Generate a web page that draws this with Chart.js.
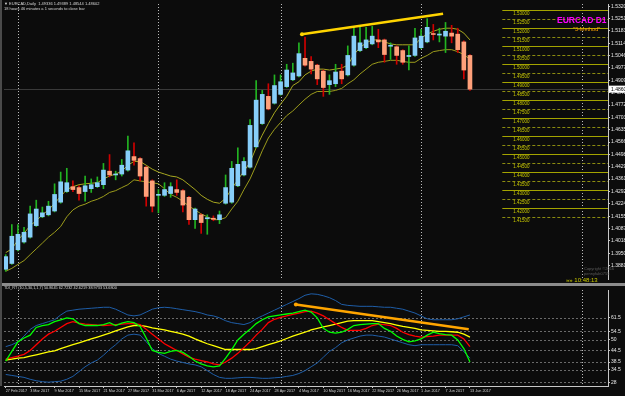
<!DOCTYPE html>
<html>
<head>
<meta charset="utf-8">
<title>EURCAD D1</title>
<script src="https://cdn.jsdelivr.net/npm/chart.js@4.4.1/dist/chart.umd.min.js"></script>
<style>
  html, body { margin: 0; padding: 0; background: #0c0c0c; }
  #wrap { position: relative; width: 625px; height: 396px; overflow: hidden; font-family: "Liberation Sans", Arial, sans-serif; }
  canvas { position: absolute; left: 0; }
  #main { top: 0; }
  #tdi { top: 286px; }
  #split { position: absolute; left: 0; top: 283px; width: 625px; height: 3px; background: #8c8c8c; }
  #edge { position: absolute; left: 0; top: 0; width: 2px; height: 386px; background: #4a4a4a; }
  .txt { position: absolute; white-space: nowrap; line-height: 1; }
</style>
</head>
<body>
<div id="wrap">
  <canvas id="main" width="625" height="283"></canvas>
  <div id="split"></div>
  <canvas id="tdi" width="625" height="110"></canvas>
  <div id="edge"></div>
  <div class="txt" style="left:4px;top:2px;font-size:4px;color:#d8d8d8">▼ EURCAD,Daily&nbsp; 1.49336 1.49389 1.48544 1.48602</div>
  <div class="txt" style="left:4px;top:7px;font-size:4px;color:#d8d8d8">18 hours 46 minutes a 1 seconds to close bar</div>
  <div class="txt" style="left:4px;top:287px;font-size:3.8px;color:#d8d8d8">TDI_RT (10,5,30,1,1,7) 50.8645 62.7232 42.6219 38.9733 53.6800</div>
  <div class="txt" style="left:557px;top:16px;font-size:8.5px;font-weight:bold;color:#ff00ff">EURCAD D1</div>
  <div class="txt" style="left:573px;top:27px;font-size:5.5px;color:#ffa500">"3-Method"</div>
  <div class="txt" style="left:584px;top:267px;font-size:4px;color:#5a5a5a">Copyright ©2016</div>
  <div class="txt" style="left:584px;top:272px;font-size:4px;color:#5a5a5a">pennyfab0755</div>
  <div class="txt" style="left:566px;top:277px;font-size:6px;color:#c8c800">»» 10:48:13</div>
</div>
<script>
// daily candles, 27 Feb 2017 .. 13 Jun 2017
const opens  = [1.3861,1.3893,1.3969,1.4012,1.4039,1.4103,1.4152,1.4163,1.4184,1.4233,1.4292,1.4319,1.4314,1.4292,1.4308,1.4319,1.4330,1.4405,1.4384,1.4389,1.4411,1.4486,1.4475,1.4427,1.4351,1.4271,1.4271,1.4281,1.4303,1.4297,1.4260,1.4136,1.4163,1.4141,1.4144,1.4136,1.4227,1.4233,1.4324,1.4384,1.4427,1.4540,1.4669,1.4820,1.4782,1.4831,1.4874,1.4912,1.4933,1.5031,1.5014,1.4993,1.4960,1.4885,1.4890,1.4960,1.4939,1.4993,1.5074,1.5090,1.5111,1.5133,1.5133,1.5098,1.5095,1.5074,1.5041,1.5047,1.5090,1.5122,1.5168,1.5160,1.5154,1.5171,1.5165,1.5122,1.5047];
const highs  = [1.3942,1.4109,1.4109,1.4093,1.4211,1.4244,1.4206,1.4238,1.4335,1.4400,1.4421,1.4351,1.4324,1.4378,1.4362,1.4373,1.4448,1.4497,1.4405,1.4470,1.4599,1.4562,1.4481,1.4432,1.4357,1.4303,1.4341,1.4341,1.4357,1.4303,1.4265,1.4200,1.4168,1.4163,1.4157,1.4184,1.4384,1.4459,1.4535,1.4481,1.4691,1.4907,1.4853,1.4890,1.4939,1.4939,1.4998,1.5004,1.5117,1.5149,1.5041,1.4998,1.4966,1.4939,1.4998,1.4998,1.5100,1.5203,1.5203,1.5203,1.5208,1.5192,1.5138,1.5117,1.5100,1.5079,1.5100,1.5198,1.5192,1.5251,1.5219,1.5198,1.5230,1.5214,1.5198,1.5128,1.5052];
const lows   = [1.3850,1.3888,1.3963,1.4006,1.4033,1.4098,1.4147,1.4157,1.4179,1.4227,1.4287,1.4292,1.4244,1.4238,1.4287,1.4314,1.4308,1.4373,1.4357,1.4378,1.4405,1.4438,1.4351,1.4211,1.4179,1.4174,1.4265,1.4260,1.4271,1.4179,1.4109,1.4087,1.4060,1.4055,1.4130,1.4114,1.4222,1.4227,1.4319,1.4378,1.4421,1.4535,1.4664,1.4745,1.4777,1.4826,1.4869,1.4907,1.4928,1.4987,1.4944,1.4885,1.4820,1.4831,1.4874,1.4890,1.4933,1.4987,1.5068,1.5084,1.5106,1.5090,1.5009,1.5025,1.4998,1.4998,1.4966,1.5041,1.5084,1.5117,1.5133,1.5122,1.5063,1.5117,1.5063,1.4917,1.4853];
const closes = [1.3931,1.4044,1.4055,1.4066,1.4168,1.4195,1.4174,1.4211,1.4276,1.4346,1.4341,1.4303,1.4281,1.4324,1.4330,1.4341,1.4411,1.4384,1.4389,1.4438,1.4518,1.4465,1.4378,1.4265,1.4211,1.4276,1.4303,1.4319,1.4287,1.4217,1.4136,1.4195,1.4120,1.4147,1.4138,1.4163,1.4314,1.4421,1.4443,1.4459,1.4659,1.4799,1.4831,1.4750,1.4880,1.4901,1.4966,1.4950,1.5057,1.4993,1.4971,1.4917,1.4869,1.4907,1.4955,1.4917,1.5047,1.5154,1.5117,1.5133,1.5154,1.5122,1.5052,1.5103,1.5047,1.5009,1.5047,1.5144,1.5154,1.5203,1.5163,1.5165,1.5181,1.5154,1.5079,1.4966,1.4860];

// two moving averages on the price chart
const maFast = [1.3953,1.3974,1.4023,1.4060,1.4103,1.4130,1.4163,1.4190,1.4227,1.4265,1.4303,1.4319,1.4330,1.4335,1.4338,1.4341,1.4362,1.4378,1.4389,1.4405,1.4438,1.4459,1.4459,1.4438,1.4416,1.4400,1.4389,1.4378,1.4373,1.4357,1.4330,1.4303,1.4271,1.4249,1.4233,1.4227,1.4254,1.4308,1.4357,1.4405,1.4454,1.4535,1.4605,1.4669,1.4729,1.4777,1.4820,1.4880,1.4901,1.4939,1.4960,1.4971,1.4971,1.4966,1.4971,1.4977,1.4993,1.5052,1.5090,1.5117,1.5133,1.5133,1.5122,1.5111,1.5106,1.5106,1.5106,1.5106,1.5144,1.5165,1.5181,1.5192,1.5198,1.5198,1.5192,1.5171,1.5133];
const maSlow = [1.3850,1.3866,1.3888,1.3909,1.3942,1.3974,1.4006,1.4039,1.4066,1.4098,1.4152,1.4190,1.4211,1.4222,1.4238,1.4249,1.4265,1.4287,1.4297,1.4314,1.4330,1.4357,1.4351,1.4346,1.4341,1.4335,1.4308,1.4276,1.4260,1.4238,1.4211,1.4190,1.4168,1.4152,1.4136,1.4136,1.4147,1.4195,1.4238,1.4303,1.4362,1.4438,1.4518,1.4589,1.4637,1.4675,1.4713,1.4739,1.4772,1.4804,1.4831,1.4847,1.4847,1.4847,1.4853,1.4864,1.4890,1.4912,1.4944,1.4971,1.4998,1.5009,1.5014,1.5020,1.5020,1.5014,1.5009,1.5009,1.5031,1.5047,1.5068,1.5074,1.5079,1.5079,1.5068,1.5052,1.5025];

// TDI lines
const tdiUpper  = [46.5,47.5,49,52,55.5,57.5,58.5,59.5,60.5,63,65,65.5,66,66.25,66.5,66.75,67,67,66,64.5,63,62.5,63,64.5,66,66.75,67,66.75,66.25,65.75,65.25,64.75,64,63,62.5,61.5,60,59,58.5,58,59,61,62.5,64,65.5,67,68.5,70,71.5,73.25,74,73.75,73,72,70.5,68.5,68,67.75,67.5,67.5,67.5,67.25,67,67,66.5,66,65,64,62.5,61,60.5,60.5,60.5,60.5,61,62,63];
const tdiLower  = [32,31.5,31,30.5,29.5,28.75,28.25,28,28.25,28.5,29.5,31,33.5,36,38,39.5,42,45,47.5,50.5,52.5,53,52.5,49,45.5,43,41.5,40,39,38.25,37.5,37,36,34,32,30.5,30,30,30.25,30.5,30.5,30.25,30,30,30.25,30.5,31,31.5,32.5,34,36,38,41,44,46,48.5,50,51,52,52.5,52.5,52,51.5,50.5,49.5,48.5,47.5,47,47.5,47.5,47.5,47.5,47.5,47.5,47,44,40.5];
const tdiBase   = [39.5,40,40.5,40.75,41.5,42.25,43,43.75,44.25,45.5,46.5,47.5,48.5,49.5,50.5,51.5,52.5,53.5,54.75,55.75,56.75,57.5,57.5,57,56.25,55.75,55.25,54.5,53.75,53,52,50.5,49.25,48,47,46,45,45,45,45,45,45.5,46.5,47.5,48.5,49.5,50.75,52,53,54,55.25,56,56.75,57.5,58.25,59,59.75,60,60,60,60,59.5,59,58.5,57.75,57,56.5,56,55.25,55,54.75,54.5,54.5,54.25,54,53,51.5];
const tdiSignal = [40,40.75,41.5,42.5,44.5,47.5,50.5,53,54.5,56.5,58.5,59.5,58.75,58.25,58,57.75,57.5,57.75,58,58.25,58.5,58.5,58,55.5,53,50.5,48,46.25,44.5,42.75,41,40,39.25,38.5,37.5,37,38.5,40.5,43,46,49,52.5,55.5,59,60.75,61.75,62.5,63.25,64,64.75,65,64,62.5,60.5,58.5,56.5,55,55,55,56,57.5,58.25,58,57.5,56,54,52.75,52,51.5,51.75,52,52.5,52.5,52.5,52.5,50.5,46.5];
const tdiPrice  = [39,44,49,51,52.5,56.5,57.5,58,59.5,60.5,61.5,61,58.5,57.5,57.5,57.5,58,59,57.5,58.75,59.5,59,57,51,44.5,43.5,43,44,44.5,43.5,41.5,39,37.5,36.5,36,36.5,40.5,45,50,53,55.5,58.5,60.5,62,62.5,63,63.5,64,64.75,65.5,64.5,61.5,56,54,53.5,54,55.5,57.5,58,58.25,58.5,58.5,56,54.5,52,50.25,49,49.5,50.5,52.5,54,53.25,52.75,52.5,50,45.5,38.5];

// drawn trend lines (bar index, value)
const trendMain = [{ x: 48.5, y: 1.5165 }, { x: 71.6, y: 1.5278 }];
const trendTdi  = [{ x: 47.5, y: 68.5 }, { x: 75.8, y: 55.5 }];

// axes
const priceTicks = [1.53200,1.52515,1.51830,1.51145,1.50460,1.49775,1.49090,1.48405,1.47720,1.47035,1.46350,1.45665,1.44980,1.44295,1.43610,1.42925,1.42240,1.41555,1.40870,1.40185,1.39500,1.38815];
const levelPrices = [1.530,1.525,1.520,1.515,1.510,1.505,1.500,1.495,1.490,1.485,1.480,1.475,1.470,1.465,1.460,1.455,1.450,1.445,1.440,1.435,1.430,1.425,1.420,1.415];
const tdiLevels = [61.5, 54.5, 50, 44.5, 38.5, 34.5, 28];
const tdiLevelLabels = ['61.5', '54.5', '50', '44.5', '38.5', '34.5', '28'];
const dateTicks = [0,4,8,12,16,20,24,28,32,36,40,44,48,52,56,60,64,68,72,76];
const dateLabels = ['27 Feb 2017','3 Mar 2017','9 Mar 2017','15 Mar 2017','21 Mar 2017','27 Mar 2017','31 Mar 2017','6 Apr 2017','12 Apr 2017','18 Apr 2017','24 Apr 2017','28 Apr 2017','4 May 2017','10 May 2017','16 May 2017','22 May 2017','26 May 2017','1 Jun 2017','7 Jun 2017','13 Jun 2017'];
const monthSeps = [2, 25, 45, 68, 94.4];

const X_MIN = -0.28, X_MAX = 98.6;
const idx = opens.map((_, i) => i);
const pts = arr => idx.map(i => ({ x: i, y: arr[i] }));
const isUp = i => closes[i] >= opens[i];
const bodyCol = idx.map(i => Math.abs(closes[i] - opens[i]) < 0.0002 ? (isUp(i) ? '#2fc02f' : '#d00000') : (isUp(i) ? '#87cefa' : '#ffa07a'));
const wickCol = idx.map(i => isUp(i) ? '#22b422' : '#d00000');

function fixRight(s) { s.width = 17; s.paddingTop = 0; s.paddingBottom = 0; }

const mainDecor = {
  id: 'mainDecor',
  beforeDatasetsDraw(chart) {
    const { ctx, chartArea: a, scales: { x, y } } = chart;
    ctx.save();
    const py = Math.round(y.getPixelForValue(closes[closes.length - 1])) + 0.5;
    ctx.strokeStyle = '#3a3a3a';
    ctx.lineWidth = 1;
    ctx.beginPath(); ctx.moveTo(a.left, py); ctx.lineTo(a.right, py); ctx.stroke();
    ctx.strokeStyle = '#bcbcbc';
    ctx.setLineDash([1, 2]);
    monthSeps.forEach(i => {
      const px = Math.round(x.getPixelForValue(i)) + 0.5;
      ctx.beginPath(); ctx.moveTo(px, a.top); ctx.lineTo(px, a.bottom); ctx.stroke();
    });
    ctx.restore();
  },
  afterDraw(chart) {
    const { ctx, chartArea: a, scales: { x, y } } = chart;
    ctx.save();
    const x0 = x.getPixelForValue(81.3);
    ctx.font = '4.5px "Liberation Sans"';
    ctx.textBaseline = 'top';
    levelPrices.forEach(p => {
      const py = Math.round(y.getPixelForValue(p)) + 0.5;
      const solid = Math.round(p * 1000) % 10 === 0;
      ctx.strokeStyle = solid ? '#a4a400' : '#8c8c10';
      ctx.lineWidth = 1;
      ctx.setLineDash(solid ? [] : [3, 2]);
      ctx.beginPath(); ctx.moveTo(x0, py); ctx.lineTo(a.right, py); ctx.stroke();
      ctx.fillStyle = '#c8c800';
      ctx.fillText(p.toFixed(5), x0 + 11, py + 1.5);
    });
    // last price box on the axis
    const py = y.getPixelForValue(closes[closes.length - 1]);
    ctx.fillStyle = '#ffffff';
    ctx.fillRect(a.right + 1, py - 3.5, 16, 7);
    ctx.fillStyle = '#000000';
    ctx.font = '5px "Liberation Sans"';
    ctx.textBaseline = 'middle';
    ctx.fillText(closes[closes.length - 1].toFixed(5), a.right + 3, py);
    ctx.restore();
  }
};

new Chart(document.getElementById('main'), {
  type: 'bar',
  data: {
    datasets: [
      { type: 'line', data: pts(maSlow), borderColor: '#9c9c1c', borderWidth: 1, pointRadius: 0, order: 3 },
      { type: 'line', data: pts(maFast), borderColor: '#a8a820', borderWidth: 1, pointRadius: 0, order: 3 },
      { type: 'bar', data: idx.map(i => ({ x: i, y: [lows[i], highs[i]] })), backgroundColor: wickCol, barThickness: 1, grouped: false, order: 2 },
      { type: 'bar', data: idx.map(i => ({ x: i, y: [opens[i], closes[i]] })), backgroundColor: bodyCol, barThickness: 4, minBarLength: 1, grouped: false, order: 1 },
      { type: 'line', data: trendMain, borderColor: '#ffd400', borderWidth: 2.5, pointRadius: [2, 0], pointBackgroundColor: '#ffd400', pointBorderWidth: 0, order: 0 }
    ]
  },
  options: {
    responsive: false,
    animation: false,
    devicePixelRatio: 1,
    layout: { padding: 0 },
    plugins: { legend: { display: false }, tooltip: { enabled: false } },
    scales: {
      x: { type: 'linear', min: X_MIN, max: X_MAX, offset: false, display: false },
      y: {
        position: 'right', min: 1.38069, max: 1.53323,
        afterFit: fixRight,
        afterBuildTicks: s => { s.ticks = priceTicks.map(v => ({ value: v })); },
        ticks: { callback: v => v.toFixed(5), color: '#e8e8e8', font: { size: 5, family: 'Liberation Sans' }, padding: 1, autoSkip: false },
        grid: { drawOnChartArea: false, tickLength: 2, color: '#c8c8c8' },
        border: { color: '#c8c8c8' }
      }
    }
  },
  plugins: [mainDecor]
});

const tdiDecor = {
  id: 'tdiDecor',
  beforeDatasetsDraw(chart) {
    const { ctx, chartArea: a, scales: { x, y } } = chart;
    ctx.save();
    ctx.lineWidth = 1;
    ctx.strokeStyle = '#6a6a6a';
    ctx.setLineDash([2, 2]);
    tdiLevels.forEach(v => {
      const py = Math.round(y.getPixelForValue(v)) + 0.5;
      ctx.beginPath(); ctx.moveTo(a.left, py); ctx.lineTo(a.right, py); ctx.stroke();
    });
    ctx.strokeStyle = '#bcbcbc';
    ctx.setLineDash([1, 2]);
    monthSeps.forEach(i => {
      const px = Math.round(x.getPixelForValue(i)) + 0.5;
      ctx.beginPath(); ctx.moveTo(px, a.top); ctx.lineTo(px, a.bottom); ctx.stroke();
    });
    ctx.restore();
  }
};

const tdiLine = (arr, color, w, order) => ({ data: pts(arr), borderColor: color, borderWidth: w, pointRadius: 0, tension: 0, order });

new Chart(document.getElementById('tdi'), {
  type: 'line',
  data: {
    datasets: [
      tdiLine(tdiUpper, '#1f5ea8', 1, 6),
      tdiLine(tdiLower, '#1f5ea8', 1, 5),
      tdiLine(tdiBase, '#ffff00', 1.3, 4),
      tdiLine(tdiSignal, '#ff0000', 1.3, 3),
      tdiLine(tdiPrice, '#00ff00', 1.3, 2),
      { data: trendTdi, borderColor: '#ffa500', borderWidth: 2.5, pointRadius: [2, 0], pointBackgroundColor: '#ffa500', pointBorderWidth: 0, order: 1 }
    ]
  },
  options: {
    responsive: false,
    animation: false,
    devicePixelRatio: 1,
    layout: { padding: 0 },
    plugins: { legend: { display: false }, tooltip: { enabled: false } },
    scales: {
      x: {
        type: 'linear', min: X_MIN, max: X_MAX, offset: false,
        afterFit: s => { s.height = 10; s.paddingLeft = 0; s.paddingRight = 0; },
        afterBuildTicks: s => { s.ticks = dateTicks.map(v => ({ value: v })); },
        ticks: { callback: (v, i) => dateLabels[i], align: 'start', maxRotation: 0, minRotation: 0, autoSkip: false, color: '#d0d0d0', font: { size: 3.8, family: 'Liberation Sans' }, padding: 1 },
        grid: { drawOnChartArea: false, tickLength: 2, color: '#c8c8c8' },
        border: { color: '#c8c8c8' }
      },
      y: {
        position: 'right', min: 26, max: 76,
        afterFit: fixRight,
        afterBuildTicks: s => { s.ticks = tdiLevels.map(v => ({ value: v })); },
        ticks: { callback: (v, i) => tdiLevelLabels[i], color: '#e8e8e8', font: { size: 5, family: 'Liberation Sans' }, padding: 1, autoSkip: false },
        grid: { drawOnChartArea: false, tickLength: 2, color: '#c8c8c8' },
        border: { color: '#c8c8c8' }
      }
    }
  },
  plugins: [tdiDecor]
});
</script>
</body>
</html>
